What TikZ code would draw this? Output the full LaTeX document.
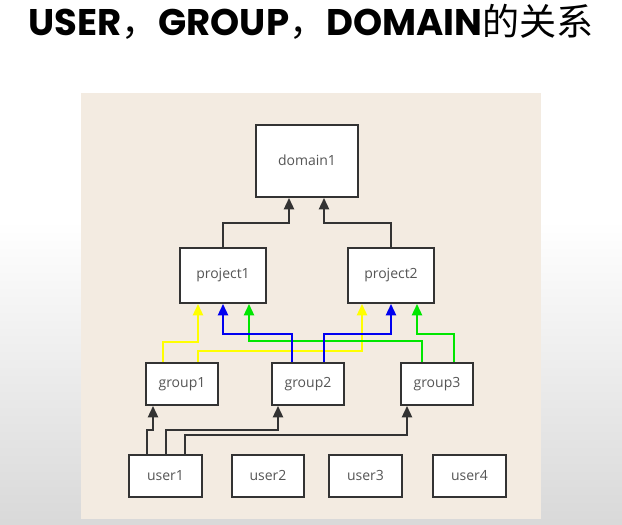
\documentclass[tikz,border=0pt]{standalone}
\usepackage{fontspec}
\setmainfont{Open Sans}
\newfontfamily\titlefont{Poppins}
\newfontfamily\cjk{Noto Sans CJK SC}
\usetikzlibrary{arrows.meta}
\definecolor{panel}{RGB}{243,235,225}
\definecolor{ink}{RGB}{51,51,51}
\definecolor{label}{RGB}{85,85,85}
\definecolor{yel}{RGB}{255,255,0}
\definecolor{blu}{RGB}{0,0,240}
\definecolor{grn}{RGB}{0,230,0}
\tikzset{
  box/.style={draw=ink,line width=1.8pt,fill=white,text=label,font=\fontsize{10.5}{12}\selectfont,inner sep=0pt},
  link/.style={draw=ink,line width=1.6pt,-{Triangle[width=7.5pt,length=8.5pt]}},
  ylink/.style={link,draw=yel,-{Triangle[width=7.5pt,length=8.5pt,fill=yel]}},
  blink/.style={link,draw=blu,-{Triangle[width=7.5pt,length=8.5pt,fill=blu]}},
  glink/.style={link,draw=grn,-{Triangle[width=7.5pt,length=8.5pt,fill=grn]}},
}
\begin{document}
\begin{tikzpicture}[x=0.75pt,y=0.75pt,yscale=-1,xscale=1]
%background and panel
\fill[white] (0,0) rectangle (622,524);
\shade[top color=white,bottom color=black!15] (0,220) rectangle (622,524);
\fill[panel] (81,92) rectangle (541,518);

% Title
\node (title) at (311,35) [anchor=base] {\fontsize{27.8}{32}\selectfont\titlefont\bfseries USER{\cjk\mdseries ，}GROUP{\cjk\mdseries ，}DOMAIN{\cjk\mdseries 的关系}};

% Text Node
\node (d1) at (307,160) [box,minimum width=76.5pt,minimum height=54pt] {domain1};
% Text Node
\node (p1) at (223,274.5) [box,minimum width=64.5pt,minimum height=41.25pt] {project1};
\node (p2) at (391,274.5) [box,minimum width=64.5pt,minimum height=41.25pt] {project2};
% Text Node
\node (g1) at (182,383) [box,minimum width=54pt,minimum height=31.5pt] {group1};
\node (g2) at (308,383) [box,minimum width=54pt,minimum height=31.5pt] {group2};
\node (g3) at (437,383) [box,minimum width=54pt,minimum height=31.5pt] {group3};
% Text Node
\node (u1) at (165.5,475) [box,minimum width=54.75pt,minimum height=31.5pt] {user1};
\node (u2) at (268,475) [box,minimum width=54pt,minimum height=31.5pt] {user2};
\node (u3) at (365.5,475) [box,minimum width=54.75pt,minimum height=31.5pt] {user3};
\node (u4) at (469.5,475) [box,minimum width=54.75pt,minimum height=31.5pt] {user4};

% Connection
\draw[link] (p1.north) |- (289,222) -- (289,0 |- d1.south);
\draw[link] (p2.north) |- (324,222) -- (324,0 |- d1.south);

% Connection
\draw[ylink] (163,0 |- g1.north) -- (163,341) -- (198,341) -- (198,0 |- p1.south);
\draw[ylink] (198,0 |- g1.north) -- (198,350) -- (362,350) -- (362,0 |- p2.south);
\draw[glink] (422,0 |- g3.north) -- (422,340) -- (249,340) -- (249,0 |- p1.south);
\draw[blink] (292,0 |- g2.north) -- (292,333) -- (223,333) -- (p1.south);
\draw[blink] (324,0 |- g2.north) -- (324,333) -- (391,333) -- (p2.south);
\draw[glink] (454,0 |- g3.north) -- (454,333) -- (417,333) -- (417,0 |- p2.south);

% Connection
\draw[link] (147,0 |- u1.north) -- (147,429) -- (153,429) -- (153,0 |- g1.south);
\draw[link] (166,0 |- u1.north) -- (166,429) -- (278,429) -- (278,0 |- g2.south);
\draw[link] (185,0 |- u1.north) -- (185,434) -- (407,434) -- (407,0 |- g3.south);

\end{tikzpicture}
\end{document}
